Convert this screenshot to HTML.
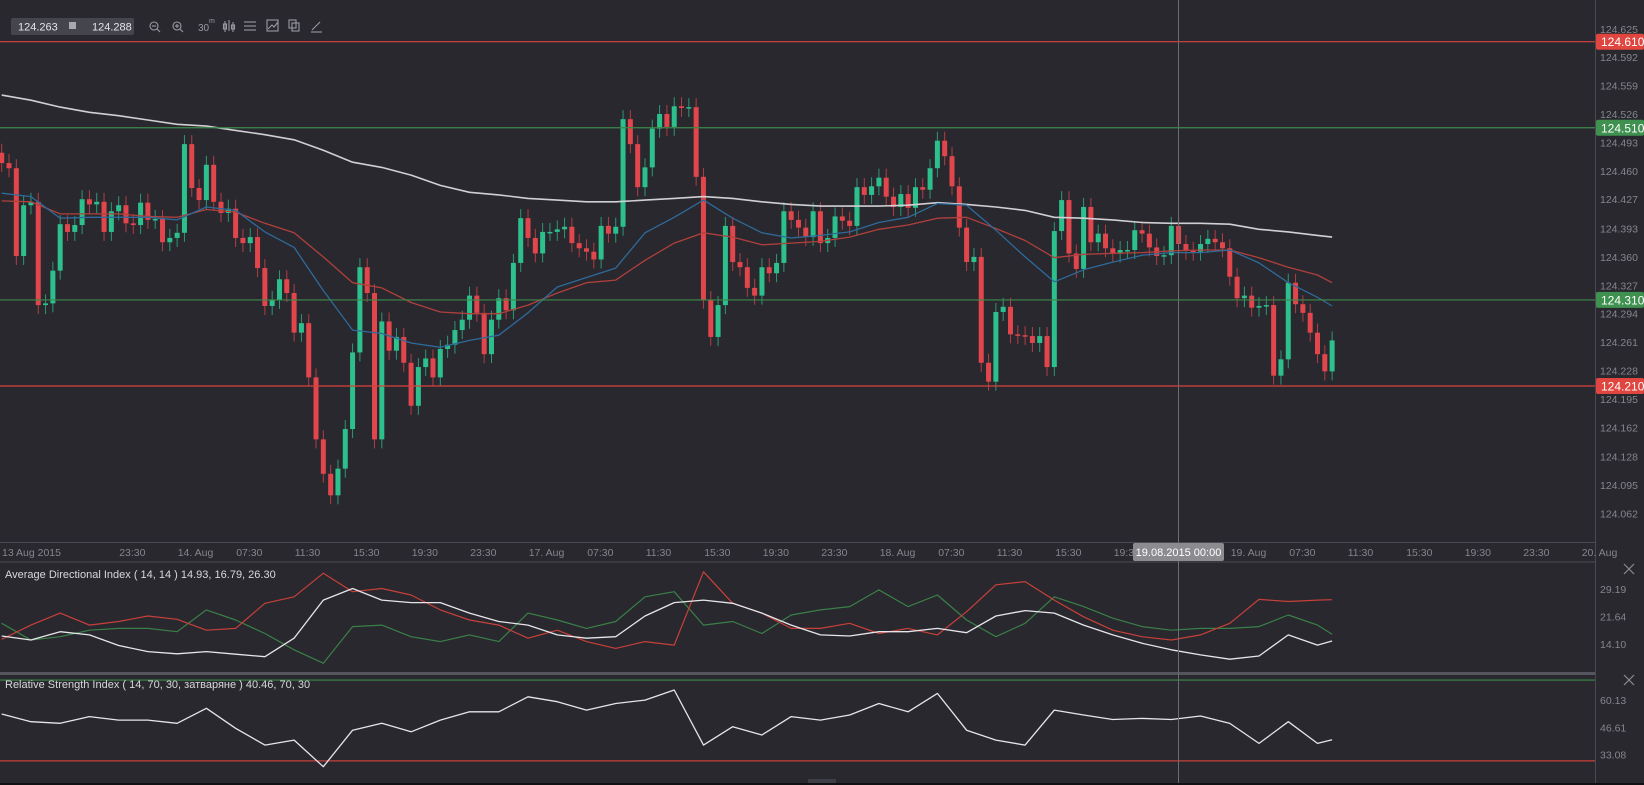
<!DOCTYPE html>
<html><head><meta charset="utf-8"><style>
html,body{margin:0;padding:0;background:#28282e;overflow:hidden}
svg{display:block;font-family:"Liberation Sans",sans-serif}
</style></head><body>
<svg id="c" width="1644" height="785" viewBox="0 0 1644 785" xmlns="http://www.w3.org/2000/svg">
<rect x="0" y="0" width="1644" height="785" fill="#28282e"/>
<g id="grid">
<line x1="0" y1="542.5" x2="1595" y2="542.5" stroke="#4a4a52"/>
<line x1="0" y1="562" x2="1595" y2="562" stroke="#4a4a52"/>
<rect x="0" y="672" width="1595" height="3" fill="#55555d"/>
<line x1="1595.5" y1="0" x2="1595.5" y2="783" stroke="#4a4a52"/>
<rect x="0" y="783" width="1644" height="2" fill="#111114"/>
<rect x="808" y="779" width="28" height="4" fill="#3e3e46"/>
</g>
<g id="main"></g>
<g id="adx"></g>
<g id="rsi"></g>
<g id="ui">
<line x1="1178.5" y1="0" x2="1178.5" y2="783" stroke="#6c6c72"/>
<rect x="1133" y="543" width="91" height="18" rx="2" fill="#8c8c90"/>
<text x="1178.5" y="556" fill="#fff" font-size="11" text-anchor="middle">19.08.2015 00:00</text>
<text x="5" y="578" fill="#d8d8dc" font-size="11">Average Directional Index ( 14, 14 ) 14.93, 16.79, 26.30</text>
<text x="5" y="688" fill="#d8d8dc" font-size="11">Relative Strength Index ( 14, 70, 30, затваряне ) 40.46, 70, 30</text>
<g stroke="#8a8a90" stroke-width="1.2"><line x1="1624" y1="564" x2="1634" y2="574"/><line x1="1634" y1="564" x2="1624" y2="574"/></g>
<g stroke="#8a8a90" stroke-width="1.2"><line x1="1624" y1="675" x2="1634" y2="685"/><line x1="1634" y1="675" x2="1624" y2="685"/></g>
<g>
<rect x="11" y="18" width="123" height="17" rx="2" fill="#45454d"/>
<text x="18" y="30.5" fill="#e4e4e8" font-size="11">124.263</text>
<rect x="69" y="22" width="7" height="7" fill="#a8a8b0"/>
<text x="92" y="30.5" fill="#e4e4e8" font-size="11">124.288</text>
<g fill="none" stroke="#9a9aa2" stroke-width="1.1">
<g><circle cx="154" cy="26" r="4"/><line x1="157" y1="29" x2="160" y2="32"/><line x1="152" y1="26" x2="156" y2="26"/></g>
<g><circle cx="177" cy="26" r="4"/><line x1="180" y1="29" x2="183" y2="32"/><line x1="175" y1="26" x2="179" y2="26"/><line x1="177" y1="24" x2="177" y2="28"/></g>
</g>
<text x="198" y="31" fill="#9a9aa2" font-size="10">30</text>
<text x="209" y="23" fill="#9a9aa2" font-size="7">m</text>
<g fill="none" stroke="#9a9aa2" stroke-width="1.1">
<g><line x1="225" y1="21" x2="225" y2="32"/><line x1="229" y1="20" x2="229" y2="31"/><line x1="233" y1="22" x2="233" y2="32"/><rect x="223.5" y="24" width="3" height="5"/><rect x="231.5" y="25" width="3" height="4"/></g>
<g><line x1="244" y1="22" x2="256" y2="22"/><line x1="244" y1="26" x2="256" y2="26"/><line x1="244" y1="30" x2="256" y2="30"/></g>
<g><rect x="267" y="20" width="11" height="11"/><polyline points="268,29 272,25 274,27 278,22"/></g>
<g><rect x="289" y="20" width="7" height="8"/><rect x="292" y="23" width="7" height="8"/></g>
<g><line x1="312" y1="30" x2="320" y2="22"/><line x1="311" y1="32" x2="322" y2="32"/></g>
</g>
</g>
</g>
</svg>
<script>
// ---- main price data (30-minute candles) ----
const firstOpen = 124.481;
const closes = [124.469,124.463,124.361,124.420,124.424,124.304,124.306,124.344,124.398,124.389,124.397,124.427,124.421,124.424,124.389,124.413,124.420,124.399,124.397,124.423,124.403,124.404,124.377,124.382,124.388,124.491,124.440,124.426,124.467,124.424,124.411,124.416,124.382,124.376,124.383,124.347,124.303,124.310,124.334,124.318,124.272,124.283,124.220,124.148,124.108,124.083,124.114,124.160,124.249,124.348,124.318,124.148,124.285,124.251,124.267,124.237,124.187,124.232,124.242,124.220,124.253,124.258,124.275,124.287,124.315,124.295,124.247,124.287,124.312,124.298,124.353,124.405,124.382,124.364,124.389,124.389,124.392,124.395,124.376,124.370,124.366,124.357,124.396,124.387,124.395,124.520,124.491,124.441,124.464,124.509,124.526,124.511,124.535,124.533,124.534,124.453,124.310,124.267,124.304,124.396,124.354,124.348,124.324,124.315,124.348,124.341,124.353,124.413,124.403,124.394,124.383,124.413,124.376,124.382,124.407,124.402,124.396,124.441,124.432,124.442,124.452,124.430,124.418,124.433,124.417,124.441,124.438,124.463,124.495,124.477,124.442,124.394,124.354,124.360,124.237,124.215,124.296,124.302,124.270,124.269,124.268,124.260,124.268,124.232,124.390,124.426,124.364,124.346,124.418,124.377,124.387,124.370,124.364,124.368,124.368,124.391,124.387,124.371,124.361,124.362,124.396,124.375,124.367,124.366,124.375,124.381,124.377,124.370,124.337,124.312,124.315,124.301,124.303,124.304,124.222,124.241,124.330,124.305,124.295,124.272,124.247,124.227,124.263];
// moving averages sampled every 4th candle
const maLong = [124.548,124.542,124.534,124.528,124.524,124.519,124.514,124.512,124.507,124.502,124.496,124.484,124.470,124.464,124.455,124.443,124.435,124.432,124.428,124.426,124.424,124.424,124.426,124.428,124.430,124.428,124.424,124.421,124.419,124.419,124.419,124.420,124.423,124.421,124.418,124.414,124.406,124.405,124.403,124.400,124.399,124.399,124.398,124.392,124.389,124.385,124.383];
const maMid = [124.425,124.424,124.410,124.410,124.410,124.407,124.406,124.415,124.412,124.399,124.388,124.360,124.330,124.324,124.307,124.296,124.294,124.294,124.304,124.318,124.330,124.333,124.356,124.376,124.388,124.383,124.374,124.376,124.378,124.383,124.392,124.397,124.405,124.406,124.393,124.379,124.359,124.363,124.364,124.365,124.367,124.368,124.368,124.359,124.348,124.339,124.330];
const maFast = [124.434,124.430,124.405,124.406,124.406,124.406,124.403,124.418,124.414,124.389,124.371,124.321,124.275,124.271,124.260,124.255,124.263,124.269,124.295,124.325,124.336,124.347,124.388,124.406,124.426,124.405,124.388,124.382,124.385,124.389,124.400,124.406,124.422,124.420,124.391,124.360,124.331,124.345,124.354,124.362,124.365,124.365,124.368,124.353,124.330,124.313,124.303];
const priceTicks = ["124.625","124.592","124.559","124.526","124.493","124.460","124.427","124.393","124.360","124.327","124.294","124.261","124.228","124.195","124.162","124.128","124.095","124.062"];
const levels = [124.610,124.510,124.310,124.210];
const levelColors = ["red","green","green","red"];
const timeLabels = ["13 Aug 2015","23:30","14. Aug","07:30","11:30","15:30","19:30","23:30","17. Aug","07:30","11:30","15:30","19:30","23:30","18. Aug","07:30","11:30","15:30","19:30","23:30","19. Aug","07:30","11:30","15:30","19:30","23:30","20. Aug"];
// ---- ADX (sampled every 4th candle) ----
const adxPlus = [15.4,19.3,22.6,19.3,20.3,21.8,20.9,17.9,18.4,25.3,27.1,33.6,28.5,29.4,27.6,23.5,20.7,19.3,15.7,17.9,14.75,12.9,14.75,13.8,34.0,25.3,22.6,18.4,18.4,19.8,17.0,18.4,16.6,23.0,30.4,31.3,26.2,21.6,17.9,16.1,15.2,16.6,19.8,26.4,25.8,26.2,26.3];
const adxMinus = [19.8,15.2,16.1,17.9,18.4,18.4,17.5,23.5,20.7,17.0,12.5,8.8,18.9,19.3,16.1,14.75,16.6,14.75,22.6,20.7,18.4,20.3,27.1,28.5,19.3,20.3,17.0,22.1,23.5,24.4,29.0,24.4,27.6,20.7,16.1,19.8,27.1,24.4,21.2,18.9,17.9,18.4,18.4,18.9,22.1,19.3,16.79];
const adxLine = [16.3,15.2,17.5,16.6,13.7,12.0,11.4,12.0,11.3,10.6,15.7,26.2,29.4,26.2,25.5,25.5,22.6,20.3,19.3,16.6,15.7,16.1,21.8,25.5,26.2,25.3,22.6,19.3,16.6,16.3,17.5,17.5,18.4,17.2,21.8,23.3,22.6,19.3,16.6,14.3,12.5,11.1,9.9,10.8,16.6,13.8,14.93];
const adxTicks = ["29.19","21.64","14.10"];
// ---- RSI (sampled every 4th candle) ----
const rsiVals = [53.2,49.4,48.6,51.9,50.2,50.2,48.6,56.0,46.1,37.8,40.3,27.1,45.2,48.6,44.4,50.2,54.3,54.3,61.7,59.3,55.15,58.4,60.1,65.1,37.8,46.9,42.8,51.9,50.2,52.7,58.4,54.3,63.4,45.2,40.3,37.8,55.15,52.7,50.5,51.0,50.5,52.2,48.55,38.65,49.4,38.65,40.46];
const rsiTicks = ["60.13","46.61","33.08"];
const rsiLevels = [70,30];

const NS="http://www.w3.org/2000/svg";
function mk(tag,attrs,parent){const e=document.createElementNS(NS,tag);for(const k in attrs)e.setAttribute(k,attrs[k]);parent.appendChild(e);return e;}
const xOf = i => 1.7 + i*7.31;
const yP = p => 41.7 + (124.610 - p)*860.75;
const yA = v => 644 - (v - 14.10)*3.63;
const yR = v => 700 - (v - 60.13)*2.02;
const sampleIdx = i => Math.min(i*4, closes.length-1);
const main=document.getElementById('main'), adx=document.getElementById('adx'), rsi=document.getElementById('rsi');
const GREEN="#2dbf8c", RED="#e0464c";

// candles
for(let i=0;i<closes.length;i++){
  const o = i===0?firstOpen:closes[i-1], c=closes[i];
  const up=c>=o, col=up?GREEN:RED, x=xOf(i);
  const top=yP(Math.max(o,c)), bot=yP(Math.min(o,c));
  const w=mk('line',{x1:x,x2:x,y1:top-9,y2:bot+9,stroke:col,'stroke-opacity':0.75,'stroke-width':1},main);
  
  
  const b=mk('rect',{x:x-2.5,y:top,width:5,height:Math.max(1.5,bot-top),fill:col},main);
  
  
}
function poly(arr, fy, xf, color, parent, name, sw){
  const pts=arr.map((v,i)=>xf(i).toFixed(1)+','+fy(v).toFixed(1)).join(' ');
  const p=mk('polyline',{points:pts,fill:'none',stroke:color,'stroke-width':sw||1.2,'stroke-linejoin':'round'},parent);
  
  
}
const sx = i => xOf(sampleIdx(i));
poly(maLong,yP,sx,"#d0d0d4",main,'ma-long-line',1.6);
poly(maMid,yP,sx,"#b0403c",main,'ma-mid-line',1.3);
poly(maFast,yP,sx,"#2f6a9a",main,'ma-fast-line',1.3);

// horizontal levels + badges
levels.forEach((lv,i)=>{
  const y=yP(lv), col=levelColors[i]==="red"?"#d9413f":"#3d8a4a";
  const l=mk('line',{x1:0,x2:1595,y1:y,y2:y,stroke:col,'stroke-width':1.2},main);
  
  
});
// price ticks
priceTicks.forEach(t=>{
  const tx=mk('text',{x:1600,y:yP(parseFloat(t))+4,fill:'#85858d','font-size':10.5},main);
  tx.textContent=t;
  
  
});
levels.forEach((lv,i)=>{
  const y=yP(lv), col=levelColors[i]==="red"?"#e0463f":"#3f9150";
  const r=mk('rect',{x:1596,y:y-8,width:48,height:16,rx:2,fill:col},main);
  
  
  const t=mk('text',{x:1601,y:y+4.5,fill:'#fff','font-size':12},main);
  t.textContent=lv.toFixed(3);
  
  
});
// time labels: "19. Aug" at 1230.7, 4h step = 58.5px
timeLabels.forEach((t,i)=>{
  const n=20-i;
  let x = 1230.7 - n*58.5;
  if(i===0) x=2;
  if(n===1) return; // hidden under crosshair label
  const tx=mk('text',{x:x,y:556,fill:'#85858d','font-size':10.5},main);
  tx.textContent=t;
  
  
});
// ADX
poly(adxMinus,yA,sx,"#3b8048",adx,'adx-minus-di-line',1.2);
poly(adxPlus,yA,sx,"#c8403a",adx,'adx-plus-di-line',1.2);
poly(adxLine,yA,sx,"#e6e6ea",adx,'adx-line',1.3);
adxTicks.forEach(t=>{
  const tx=mk('text',{x:1600,y:yA(parseFloat(t))+4,fill:'#85858d','font-size':10.5},adx);
  tx.textContent=t;
  
  
});
// RSI
rsiLevels.forEach((lv,i)=>{
  const y=yR(lv);
  const l=mk('line',{x1:0,x2:1595,y1:y,y2:y,stroke:i===0?"#3d8a4a":"#c8403a",'stroke-width':1.2},rsi);
  
  
});
poly(rsiVals,yR,sx,"#e6e6ea",rsi,'rsi-line',1.3);
rsiTicks.forEach(t=>{
  const tx=mk('text',{x:1600,y:yR(parseFloat(t))+4,fill:'#85858d','font-size':10.5},rsi);
  tx.textContent=t;
  
  
});
</script>
</body></html>
